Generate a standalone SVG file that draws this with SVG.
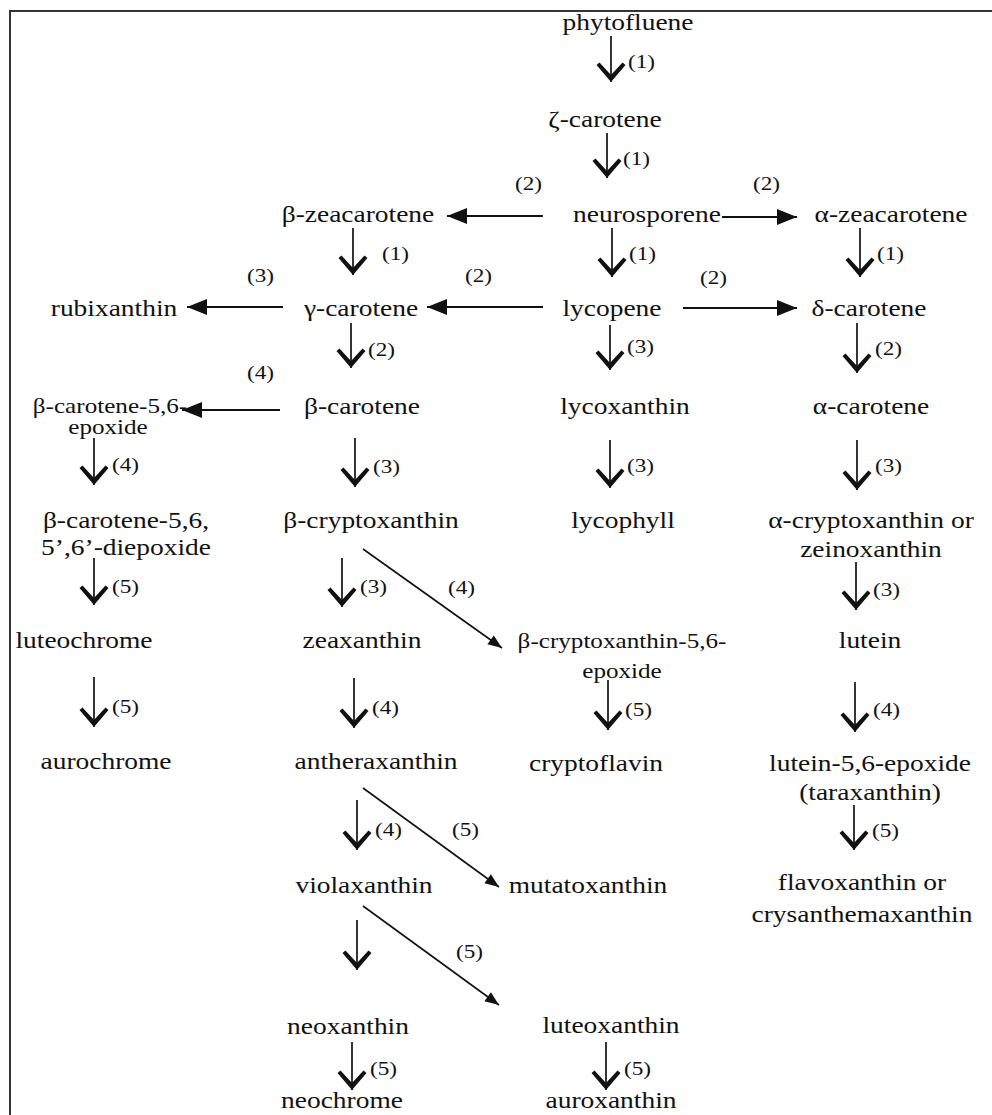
<svg xmlns="http://www.w3.org/2000/svg" width="992" height="1115" viewBox="0 0 992 1115">
<style>
text{font-family:"Liberation Serif","Times New Roman",serif;fill:#111}
.n{font-size:22.5px;text-anchor:middle}
.s{font-size:20.6px;text-anchor:middle}
.l{font-size:19px;text-anchor:start}
.d{stroke:#111;stroke-width:1.7;fill:none;marker-end:url(#vh)}
.h{stroke:#111;stroke-width:2.2;fill:none;marker-end:url(#th)}
.g{stroke:#111;stroke-width:1.6;fill:none;marker-end:url(#dh)}
</style>
<defs>
<marker id="vh" viewBox="-21 -16 22 32" refX="0" refY="0" markerWidth="22" markerHeight="32" markerUnits="userSpaceOnUse" orient="auto">
<path d="M0,0 L-17,-14.5 L-19.5,-11.5 L-7,0 L-19.5,11.5 L-17,14.5 Z" fill="#111"/>
</marker>
<marker id="th" viewBox="-21 -9 22 18" refX="0" refY="0" markerWidth="22" markerHeight="18" markerUnits="userSpaceOnUse" orient="auto">
<path d="M0,0 L-20,-8 L-20,8 Z" fill="#111"/>
</marker>
<marker id="dh" viewBox="-15 -7 16 14" refX="0" refY="0" markerWidth="16" markerHeight="14" markerUnits="userSpaceOnUse" orient="auto">
<path d="M0,0 L-14,-5.5 L-14,5.5 Z" fill="#111"/>
</marker>
</defs>
<rect width="992" height="1115" fill="#fff"/>
<path d="M10,1115 V11 H992" fill="none" stroke="#333" stroke-width="2"/>

<g id="connectors">
<line class="d" x1="611" y1="36" x2="611" y2="82"/>
<line class="d" x1="607" y1="133" x2="607" y2="178"/>
<line class="d" x1="612" y1="228" x2="612" y2="277"/>
<line class="d" x1="353" y1="228" x2="353" y2="275"/>
<line class="d" x1="860" y1="228" x2="860" y2="277"/>
<line class="d" x1="351" y1="323" x2="351" y2="368"/>
<line class="d" x1="610" y1="325" x2="610" y2="370"/>
<line class="d" x1="857" y1="323" x2="857" y2="373"/>
<line class="d" x1="94" y1="438" x2="94" y2="485"/>
<line class="d" x1="355" y1="438" x2="355" y2="487"/>
<line class="d" x1="610" y1="440" x2="610" y2="488"/>
<line class="d" x1="857" y1="440" x2="857" y2="490"/>
<line class="d" x1="94" y1="558" x2="94" y2="605"/>
<line class="d" x1="342" y1="558" x2="342" y2="607"/>
<line class="d" x1="856" y1="562" x2="856" y2="610"/>
<line class="d" x1="94" y1="677" x2="94" y2="727"/>
<line class="d" x1="354" y1="678" x2="354" y2="728"/>
<line class="d" x1="608" y1="680" x2="608" y2="730"/>
<line class="d" x1="855" y1="682" x2="855" y2="732"/>
<line class="d" x1="357" y1="800" x2="357" y2="850"/>
<line class="d" x1="854" y1="805" x2="854" y2="850"/>
<line class="d" x1="357" y1="920" x2="357" y2="970"/>
<line class="d" x1="352" y1="1042" x2="352" y2="1090"/>
<line class="d" x1="606" y1="1042" x2="606" y2="1090"/>
<line class="h" x1="543" y1="216" x2="447" y2="216"/>
<line class="h" x1="722" y1="217" x2="797" y2="217"/>
<line class="h" x1="283" y1="307" x2="187" y2="307"/>
<line class="h" x1="543" y1="307" x2="427" y2="307"/>
<line class="h" x1="683" y1="308" x2="797" y2="308"/>
<line class="h" x1="280" y1="410" x2="182" y2="410"/>
<line class="g" x1="363" y1="549" x2="502" y2="648"/>
<line class="g" x1="363" y1="788" x2="499" y2="887"/>
<line class="g" x1="363" y1="906" x2="499" y2="1005"/>
<text class="l" transform="translate(628,68) scale(1.22,1)">(1)</text>
<text class="l" transform="translate(623,165) scale(1.22,1)">(1)</text>
<text class="l" transform="translate(629,260) scale(1.22,1)">(1)</text>
<text class="l" transform="translate(382,260) scale(1.22,1)">(1)</text>
<text class="l" transform="translate(877,260) scale(1.22,1)">(1)</text>
<text class="l" transform="translate(368,356) scale(1.22,1)">(2)</text>
<text class="l" transform="translate(627,353) scale(1.22,1)">(3)</text>
<text class="l" transform="translate(875,355) scale(1.22,1)">(2)</text>
<text class="l" transform="translate(112,471) scale(1.22,1)">(4)</text>
<text class="l" transform="translate(373,473) scale(1.22,1)">(3)</text>
<text class="l" transform="translate(627,472) scale(1.22,1)">(3)</text>
<text class="l" transform="translate(875,472) scale(1.22,1)">(3)</text>
<text class="l" transform="translate(112,593) scale(1.22,1)">(5)</text>
<text class="l" transform="translate(360,593) scale(1.22,1)">(3)</text>
<text class="l" transform="translate(873,596) scale(1.22,1)">(3)</text>
<text class="l" transform="translate(112,713) scale(1.22,1)">(5)</text>
<text class="l" transform="translate(372,714) scale(1.22,1)">(4)</text>
<text class="l" transform="translate(625,716) scale(1.22,1)">(5)</text>
<text class="l" transform="translate(873,716) scale(1.22,1)">(4)</text>
<text class="l" transform="translate(375,836) scale(1.22,1)">(4)</text>
<text class="l" transform="translate(872,837) scale(1.22,1)">(5)</text>
<text class="l" transform="translate(370,1075) scale(1.22,1)">(5)</text>
<text class="l" transform="translate(624,1075) scale(1.22,1)">(5)</text>
<text class="l" transform="translate(515,190) scale(1.22,1)">(2)</text>
<text class="l" transform="translate(753,190) scale(1.22,1)">(2)</text>
<text class="l" transform="translate(247,282) scale(1.22,1)">(3)</text>
<text class="l" transform="translate(465,282) scale(1.22,1)">(2)</text>
<text class="l" transform="translate(700,284) scale(1.22,1)">(2)</text>
<text class="l" transform="translate(247,379) scale(1.22,1)">(4)</text>
<text class="l" transform="translate(448,594) scale(1.22,1)">(4)</text>
<text class="l" transform="translate(452,836) scale(1.22,1)">(5)</text>
<text class="l" transform="translate(456,958) scale(1.22,1)">(5)</text>
</g>

<g id="phytofluene"><text class="n" transform="translate(628,30) scale(1.22,1)">phytofluene</text></g>
<g id="zeta-carotene"><text class="n" transform="translate(605,127) scale(1.22,1)">ζ-carotene</text></g>
<g id="neurosporene"><text class="n" transform="translate(647,222) scale(1.22,1)">neurosporene</text></g>
<g id="beta-zeacarotene"><text class="n" transform="translate(358,222) scale(1.22,1)">β-zeacarotene</text></g>
<g id="alpha-zeacarotene"><text class="n" transform="translate(891,222) scale(1.22,1)">α-zeacarotene</text></g>
<g id="rubixanthin"><text class="n" transform="translate(114,316) scale(1.22,1)">rubixanthin</text></g>
<g id="gamma-carotene"><text class="n" transform="translate(361,316) scale(1.22,1)">γ-carotene</text></g>
<g id="lycopene"><text class="n" transform="translate(612,316) scale(1.22,1)">lycopene</text></g>
<g id="delta-carotene"><text class="n" transform="translate(869,316) scale(1.22,1)">δ-carotene</text></g>
<g id="beta-carotene-epoxide"><text class="s" transform="translate(110,413) scale(1.22,1)">β-carotene-5,6-</text><text class="s" transform="translate(108,434) scale(1.22,1)">epoxide</text></g>
<g id="beta-carotene"><text class="n" transform="translate(362,414) scale(1.22,1)">β-carotene</text></g>
<g id="lycoxanthin"><text class="n" transform="translate(625,414) scale(1.22,1)">lycoxanthin</text></g>
<g id="alpha-carotene"><text class="n" transform="translate(871,414) scale(1.22,1)">α-carotene</text></g>
<g id="beta-carotene-diepoxide"><text class="n" transform="translate(126,528) scale(1.22,1)">β-carotene-5,6,</text><text class="n" transform="translate(126,555) scale(1.22,1)">5’,6’-diepoxide</text></g>
<g id="beta-cryptoxanthin"><text class="n" transform="translate(371,528) scale(1.22,1)">β-cryptoxanthin</text></g>
<g id="lycophyll"><text class="n" transform="translate(623,528) scale(1.22,1)">lycophyll</text></g>
<g id="alpha-cryptoxanthin"><text class="n" transform="translate(871,528) scale(1.22,1)">α-cryptoxanthin or</text><text class="n" transform="translate(871,557) scale(1.22,1)">zeinoxanthin</text></g>
<g id="luteochrome"><text class="n" transform="translate(84,648) scale(1.22,1)">luteochrome</text></g>
<g id="zeaxanthin"><text class="n" transform="translate(362,648) scale(1.22,1)">zeaxanthin</text></g>
<g id="beta-cryptoxanthin-epoxide"><text class="s" transform="translate(622,648) scale(1.22,1)">β-cryptoxanthin-5,6-</text><text class="s" transform="translate(622,678) scale(1.22,1)">epoxide</text></g>
<g id="lutein"><text class="n" transform="translate(870,648) scale(1.22,1)">lutein</text></g>
<g id="aurochrome"><text class="n" transform="translate(106,769) scale(1.22,1)">aurochrome</text></g>
<g id="antheraxanthin"><text class="n" transform="translate(376,769) scale(1.22,1)">antheraxanthin</text></g>
<g id="cryptoflavin"><text class="n" transform="translate(596,771) scale(1.22,1)">cryptoflavin</text></g>
<g id="lutein-epoxide"><text class="n" transform="translate(870,771) scale(1.22,1)">lutein-5,6-epoxide</text><text class="n" transform="translate(870,800) scale(1.22,1)">(taraxanthin)</text></g>
<g id="violaxanthin"><text class="n" transform="translate(364,893) scale(1.22,1)">violaxanthin</text></g>
<g id="mutatoxanthin"><text class="n" transform="translate(588,893) scale(1.22,1)">mutatoxanthin</text></g>
<g id="flavoxanthin"><text class="n" transform="translate(862,890) scale(1.22,1)">flavoxanthin or</text><text class="n" transform="translate(862,922) scale(1.22,1)">crysanthemaxanthin</text></g>
<g id="neoxanthin"><text class="n" transform="translate(348,1034) scale(1.22,1)">neoxanthin</text></g>
<g id="luteoxanthin"><text class="n" transform="translate(611,1033) scale(1.22,1)">luteoxanthin</text></g>
<g id="neochrome"><text class="n" transform="translate(342,1108) scale(1.22,1)">neochrome</text></g>
<g id="auroxanthin"><text class="n" transform="translate(611,1108) scale(1.22,1)">auroxanthin</text></g>
</svg>
